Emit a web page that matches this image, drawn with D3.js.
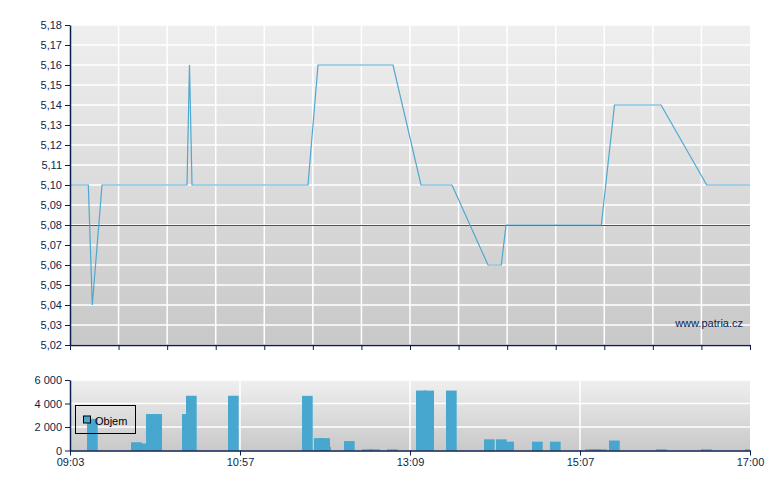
<!DOCTYPE html>
<html><head><meta charset="utf-8">
<script src="https://cdn.jsdelivr.net/npm/d3@7"></script>
<style>body{margin:0;background:#fff}svg{display:block}text{font-family:Arial,"Liberation Sans",sans-serif}</style>
</head><body><svg id="c" width="780" height="490"></svg>
<script>
// x positions expressed in axis slot units (0 = 09:03, 14 = 17:00)
const priceX = [0,0.377,0.459,0.659,2.409,2.460,2.512,4.900,5.106,6.650,7.227,7.865,8.606,8.880,8.977,10.939,11.210,12.168,13.109,14];
const priceY = [5.10,5.10,5.04,5.10,5.10,5.16,5.10,5.10,5.16,5.16,5.10,5.10,5.06,5.06,5.08,5.08,5.14,5.14,5.10,5.10];
const refPrice = 5.08;
const priceTicks = [5.02,5.03,5.04,5.05,5.06,5.07,5.08,5.09,5.10,5.11,5.12,5.13,5.14,5.15,5.16,5.17,5.18];
const volX = [0.350,1.344,1.256,1.565,1.674,2.306,2.388,3.253,4.777,5.153,5.024,5.133,5.641,6.012,6.162,6.527,7.124,7.274,7.741,8.524,8.921,8.771,9.512,9.882,10.603,10.706,10.836,11.097,12.065,12.991,13.897];
const volY = [2700,600,700,3100,3100,3100,4660,4660,4650,300,1050,1050,800,100,100,100,5100,5100,5100,950,750,950,750,750,100,100,100,850,100,100,100];
const volTicks = [0,2000,4000,6000];
const timeTickPos = [0,3.5,7,10.5,14];
const timeTickLabels = ["09:03","10:57","13:09","15:07","17:00"];
const legendLabel = "Objem";
const watermark = "www.patria.cz";

const svg = d3.select("#c");
const navy = "#0b1f4e", blue = "#47a7cf", lineBlue = "#4ea8cf";
const L = 70, R = 750;
const x = d3.scaleLinear().domain([0,14]).range([L,R]);
const y = d3.scaleLinear().domain([5.02,5.18]).range([345,25]);
const yv = d3.scaleLinear().domain([0,6000]).range([450.5,380]);
const fmtP = v => d3.format(".2f")(v).replace(".",",");
const fmtV = v => d3.format(",")(v).replace(/,/g," ");

const defs = svg.append("defs");
function grad(id, c1, c2){
  const g = defs.append("linearGradient").attr("id",id).attr("x1",0).attr("y1",0).attr("x2",0).attr("y2",1);
  g.append("stop").attr("offset","0%").attr("stop-color",c1);
  g.append("stop").attr("offset","100%").attr("stop-color",c2);
}
grad("g1","#efefef","#c8c8c8");
grad("g2","#efefef","#c9c9c9");

// price panel
svg.append("rect").attr("x",L).attr("y",y(5.18)).attr("width",R-L).attr("height",y(5.02)-y(5.18)).attr("fill","url(#g1)");
const gp = svg.append("g");
gp.selectAll(".hg").data(priceTicks).join("line").attr("x1",L).attr("x2",R)
  .attr("y1",d=>y(d)).attr("y2",d=>y(d)).attr("stroke","#fff").attr("stroke-width",1.5);
gp.selectAll(".vg").data(d3.range(1,14)).join("line").attr("y1",y(5.18)).attr("y2",y(5.02))
  .attr("x1",d=>x(d)).attr("x2",d=>x(d)).attr("stroke","#fff").attr("stroke-width",1.5);
gp.append("line").attr("x1",L).attr("x2",R).attr("y1",y(refPrice)+0.5).attr("y2",y(refPrice)+0.5)
  .attr("stroke","#a8302a").attr("stroke-width",1).attr("shape-rendering","crispEdges");
const pts = priceX.map((d,i)=>[d,priceY[i]]);
gp.append("path").datum(pts).attr("fill","none").attr("stroke",lineBlue).attr("stroke-width",1.2)
  .attr("d",d3.line().x(d=>x(d[0])).y(d=>y(d[1])));
svg.append("text").attr("x",743).attr("y",327).attr("text-anchor","end").attr("font-size",11).attr("fill",navy).text(watermark);

svg.append("g").attr("transform",`translate(${L},0)`)
  .call(d3.axisLeft(y).tickValues(priceTicks).tickFormat(fmtP).tickSize(5).tickSizeOuter(0));
svg.append("g").attr("transform",`translate(0,${y(5.02)})`)
  .call(d3.axisBottom(x).tickValues(d3.range(0,15)).tickFormat("").tickSize(5).tickSizeOuter(0));

// volume panel
svg.append("rect").attr("x",L).attr("y",yv(6000)).attr("width",R-L).attr("height",yv(0)-yv(6000)).attr("fill","url(#g2)");
const gv = svg.append("g");
gv.selectAll(".hg").data(volTicks.slice(1)).join("line").attr("x1",L).attr("x2",R)
  .attr("y1",d=>yv(d)).attr("y2",d=>yv(d)).attr("stroke","#fff").attr("stroke-width",1.5);
gv.selectAll(".vg").data(timeTickPos.slice(1,4)).join("line").attr("y1",yv(6000)).attr("y2",yv(0))
  .attr("x1",d=>x(d)).attr("x2",d=>x(d)).attr("stroke","#fff").attr("stroke-width",1.5);
const bw = 0.22;
gv.selectAll(".bar").data(volX.map((d,i)=>[d,volY[i]])).join("rect")
  .attr("x",d=>x(d[0])).attr("width",d=>Math.min(x(d[0]+bw),R)-x(d[0]))
  .attr("y",d=>yv(d[1])).attr("height",d=>yv(0)-yv(d[1])).attr("fill",blue);

svg.append("g").attr("transform",`translate(${L},0)`)
  .call(d3.axisLeft(yv).tickValues(volTicks).tickFormat(fmtV).tickSize(5).tickSizeOuter(0));
svg.append("g").attr("transform",`translate(0,${yv(0)})`)
  .call(d3.axisBottom(x).tickValues(timeTickPos).tickFormat((d,i)=>timeTickLabels[i]).tickSize(5).tickSizeOuter(0));

svg.selectAll(".domain").attr("stroke",navy).attr("stroke-width",1.5);
svg.selectAll(".tick line").attr("stroke",navy);
svg.selectAll(".tick text").attr("fill",navy).attr("font-size",11).attr("font-family","Arial, 'Liberation Sans', sans-serif");

// legend
const lg = svg.append("g");
lg.append("rect").attr("x",75.5).attr("y",405.5).attr("width",60).attr("height",28).attr("fill","none").attr("stroke","#000");
lg.append("rect").attr("x",83.5).attr("y",416).attr("width",7).attr("height",7).attr("fill",blue).attr("stroke","#000");
lg.append("text").attr("x",95).attr("y",424.5).attr("font-size",11).attr("fill","#000").text(legendLabel);
</script></body></html>
